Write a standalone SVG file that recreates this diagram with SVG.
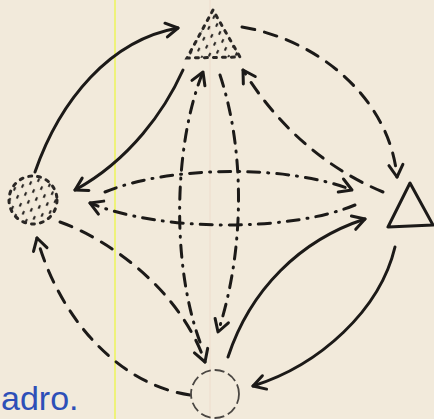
<svg xmlns="http://www.w3.org/2000/svg" width="434" height="419" viewBox="0 0 434 419">
<style>
.ln{fill:none;stroke:#1c1a18;stroke-width:3;stroke-linecap:round}
.dash{stroke-dasharray:13 10}
.dd{stroke-dasharray:12 8 1 8}
.dot{stroke:#2a2725;stroke-width:3;stroke-linecap:round;stroke-dasharray:3 6}
</style>
<defs>
<marker id="ar" markerUnits="userSpaceOnUse" markerWidth="16" markerHeight="16" refX="12" refY="7" orient="auto" overflow="visible">
<path d="M0,0 L12,7 L0,14" fill="none" stroke="#1c1a18" stroke-width="3" stroke-linecap="round" stroke-linejoin="round"/>
</marker>
<pattern id="dots" width="12" height="12" patternUnits="userSpaceOnUse" patternTransform="rotate(25)">
<rect x="2" y="1" width="2.2" height="4" rx="1" fill="#2a2725"/>
<rect x="8" y="7" width="2.2" height="4" rx="1" fill="#2a2725"/>
</pattern>
</defs>
<rect width="434" height="419" fill="#f2eadb"/>
<line x1="115" y1="0" x2="115" y2="419" stroke="#eef27a" stroke-width="2"/>
<line x1="210" y1="0" x2="210" y2="419" stroke="#eedccc" stroke-width="1"/>

<g id="connectors">
<path class="ln" d="M35,172 C60,100 110,40 178,28" marker-end="url(#ar)"/>
<path class="ln" d="M183,70 C165,110 130,160 75,190" marker-end="url(#ar)"/>
<path class="ln dash" d="M242,27 C320,40 390,100 397,177" marker-end="url(#ar)"/>
<path class="ln dash" d="M383,192 C330,170 280,130 243,70" marker-end="url(#ar)"/>
<path class="ln dd" d="M105,192 C170,165 290,165 352,190" marker-end="url(#ar)"/>
<path class="ln dd" d="M355,205 C290,232 160,232 90,203" marker-end="url(#ar)"/>
<path class="ln dd" d="M200,342 C170,260 175,140 203,72" marker-end="url(#ar)"/>
<path class="ln dd" d="M220,75 C245,150 245,250 218,332" marker-end="url(#ar)"/>
<path class="ln dash" d="M60,222 C110,240 180,290 205,362" marker-end="url(#ar)"/>
<path class="ln dash" d="M190,395 C120,385 60,320 37,238" marker-end="url(#ar)"/>
<path class="ln" d="M395,247 C380,310 320,365 253,386" marker-end="url(#ar)"/>
<path class="ln" d="M228,357 C250,290 300,240 365,219" marker-end="url(#ar)"/>
</g>

<g id="node-top">
<path d="M213,10 L187,58 L240,57 Z" fill="url(#dots)" class="dot"/>
</g>
<g id="node-left">
<circle cx="33" cy="200" r="24" fill="url(#dots)" class="dot"/>
</g>
<g id="node-right">
<path d="M410,183 L388,227 L433,225 Z" fill="none" stroke="#1c1a18" stroke-width="3" stroke-linejoin="round"/>
</g>
<g id="node-bottom">
<circle cx="215" cy="394" r="24" fill="none" stroke="#4a4642" stroke-width="1.8" stroke-dasharray="10 4"/>
</g>

<text x="1" y="410" font-family="Liberation Sans, sans-serif" font-size="34" fill="#2d4fb8">adro.</text>
</svg>
